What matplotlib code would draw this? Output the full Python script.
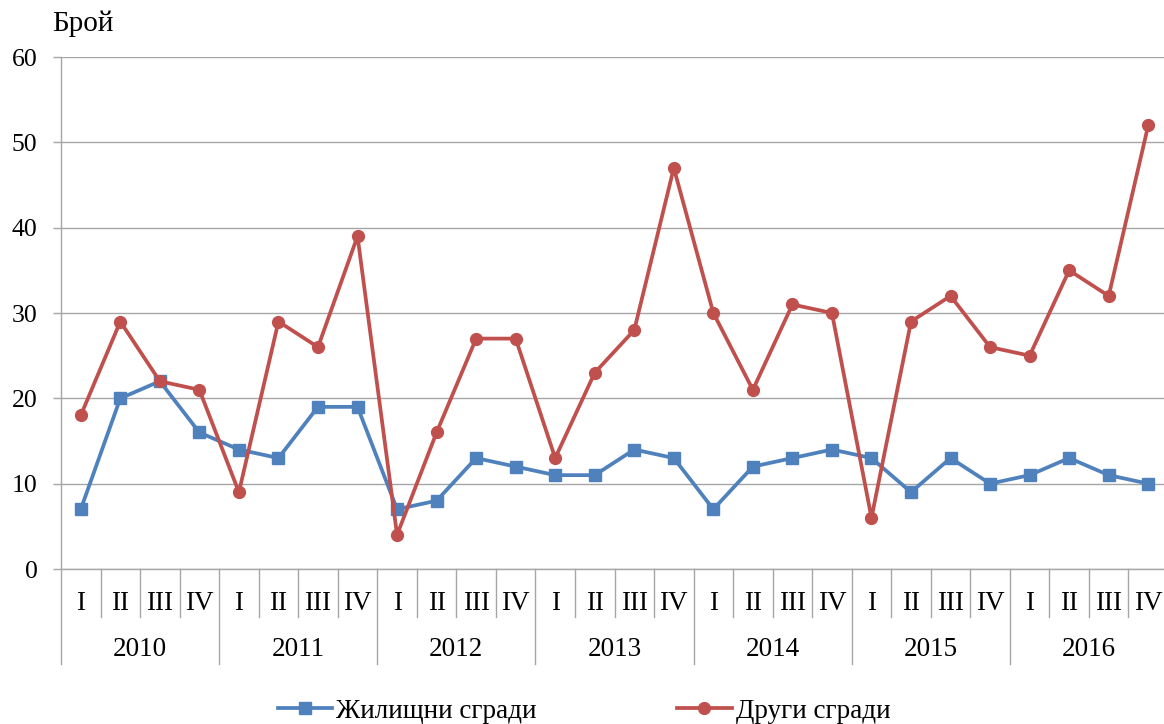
import matplotlib
matplotlib.use("Agg")
import matplotlib.pyplot as plt
import matplotlib.transforms as mtransforms

years = ["2010", "2011", "2012", "2013", "2014", "2015", "2016"]
quarters = ["I", "II", "III", "IV"]
residential = [7, 20, 22, 16, 14, 13, 19, 19, 7, 8, 13, 12, 11, 11, 14, 13,
               7, 12, 13, 14, 13, 9, 13, 10, 11, 13, 11, 10]
other = [18, 29, 22, 21, 9, 29, 26, 39, 4, 16, 27, 27, 13, 23, 28, 47,
         30, 21, 31, 30, 6, 29, 32, 26, 25, 35, 32, 52]
series_names = ["Жилищни сгради", "Други сгради"]
y_label = "Брой"

plt.rcParams['font.family'] = ['Liberation Serif', 'DejaVu Serif']

W, H = 1164, 724
fig = plt.figure(figsize=(W / 100, H / 100), dpi=100)
left_px, right_px, top_px, bot_px = 61, 1168, 57, 569
ax = fig.add_axes([left_px / W, 1 - bot_px / H, (right_px - left_px) / W, (bot_px - top_px) / H])

grid_c = '#a6a6a6'
x = list(range(len(residential)))
ax.plot(x, residential, color='#4F81BD', lw=2.7, marker='s', ms=9, label=series_names[0], zorder=3)
ax.plot(x, other, color='#C0504D', lw=2.7, marker='o', ms=8.5, label=series_names[1], zorder=3)

ax.set_xlim(-0.5, len(x) - 0.5)
ax.set_ylim(0, 60)
ax.set_yticks(range(0, 61, 10))
ax.yaxis.grid(True, color=grid_c, lw=1.0)
ax.set_axisbelow(True)
for s in ['top', 'right']:
    ax.spines[s].set_visible(False)
ax.spines['left'].set_color(grid_c)
ax.spines['bottom'].set_color(grid_c)
ax.spines['left'].set_linewidth(1.0)
ax.spines['bottom'].set_linewidth(1.0)
ax.tick_params(axis='y', length=6, color=grid_c, width=1.0, labelsize=18.5, pad=11)
ax.set_xticks([])

trans = mtransforms.blended_transform_factory(ax.transData, ax.transAxes)
axh = (bot_px - top_px)
q_bottom = -(617 - bot_px) / axh
y_bottom = -(664 - bot_px) / axh
q_text = -(603 - bot_px) / axh
y_text = -(650 - bot_px) / axh

n = len(x)
for i in range(n + 1):
    xs = i - 0.5
    yb = y_bottom if i % 4 == 0 else q_bottom
    ax.plot([xs, xs], [0, yb], transform=trans, color=grid_c, lw=1.0, clip_on=False)
for i in range(n):
    ax.text(i, q_text, quarters[i % 4], transform=trans, ha='center', va='center', fontsize=19.5)
for j, yr in enumerate(years):
    ax.text(j * 4 + 1.5, y_text, yr, transform=trans, ha='center', va='center', fontsize=19.5)

fig.text(52 / W, 1 - 24 / H, y_label, ha='left', va='center', fontsize=21)

fig.legend(loc='center', bbox_to_anchor=(584 / W, 1 - 711 / H), ncol=2, frameon=False,
           fontsize=19.5, handlelength=2.0, handletextpad=0.15, columnspacing=5.2)

fig.savefig("out.png", dpi=100)
